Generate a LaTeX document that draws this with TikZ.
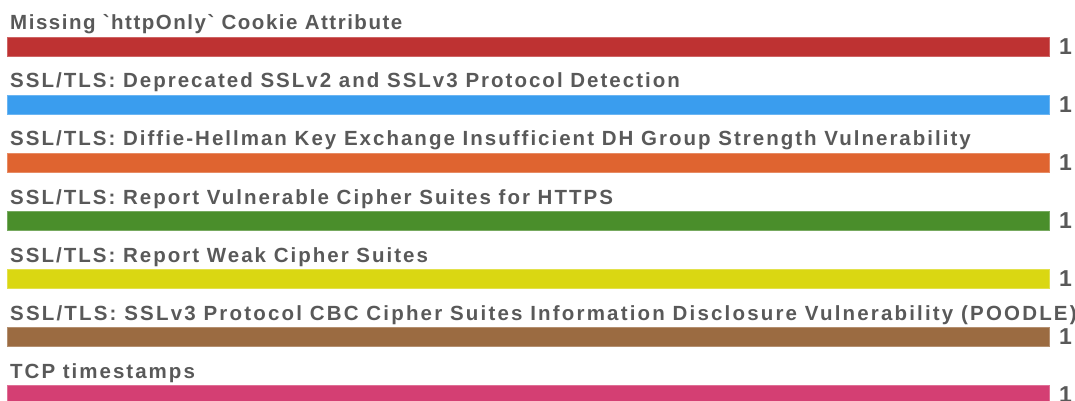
\documentclass[tikz,border=0pt]{standalone}
\usepackage{fontspec}
\newfontfamily\lblfont{Liberation Sans}[LetterSpace=9.8]
\newfontfamily\lblfontn{Liberation Sans}[LetterSpace=7.4]
\newfontfamily\lblfontw{Liberation Sans}[LetterSpace=10.6]
\newfontfamily\valfont{Liberation Sans}
\definecolor{txt}{HTML}{595959}
\definecolor{c1}{HTML}{BE3232}
\definecolor{c2}{HTML}{3A9DEE}
\definecolor{c3}{HTML}{DF6430}
\definecolor{c4}{HTML}{4A8E2B}
\definecolor{c5}{HTML}{DAD712}
\definecolor{c6}{HTML}{9B6B41}
\definecolor{c7}{HTML}{D43F73}
\begin{document}
\begin{tikzpicture}[x=1pt,y=1pt,
  lbl/.style={anchor=base west,inner sep=0pt,text=txt,font=\lblfont\fontsize{20.5}{24}\selectfont\bfseries},
  lbln/.style={lbl,font=\lblfontn\fontsize{20.5}{24}\selectfont\bfseries},
  lblw/.style={lbl,font=\lblfontw\fontsize{20.5}{24}\selectfont\bfseries},
  val/.style={anchor=west,inner sep=0pt,text=txt,font=\valfont\fontsize{23}{26}\selectfont\bfseries},
  bar/.style={anchor=north west,inner sep=0pt,minimum height=19pt,minimum width=1042pt,fill=#1,draw=#1!75!white,line width=0.8pt}]
\useasboundingbox (0,0) rectangle (1075,-401);
\foreach \i/\c/\s/\t in {0/c1/lbln/{Missing `httpOnly` Cookie Attribute},
  1/c2/lbl/{SSL/TLS: Deprecated SSLv2 and SSLv3 Protocol Detection},
  2/c3/lbl/{SSL/TLS: Diffie-Hellman Key Exchange Insufficient DH Group Strength Vulnerability},
  3/c4/lbl/{SSL/TLS: Report Vulnerable Cipher Suites for HTTPS},
  4/c5/lbl/{SSL/TLS: Report Weak Cipher Suites},
  5/c6/lblw/{SSL/TLS: SSLv3 Protocol CBC Cipher Suites Information Disclosure Vulnerability (POODLE)},
  6/c7/lbl/{TCP timestamps}}{
  \node[\s] (l\i) at (10,-30-58*\i) {\t};
  \node[bar=\c] (b\i) at (7,-37-58*\i) {};
  \node[val] (v\i) at ([xshift=9pt]b\i.east) {1};
}
\end{tikzpicture}
\end{document}
